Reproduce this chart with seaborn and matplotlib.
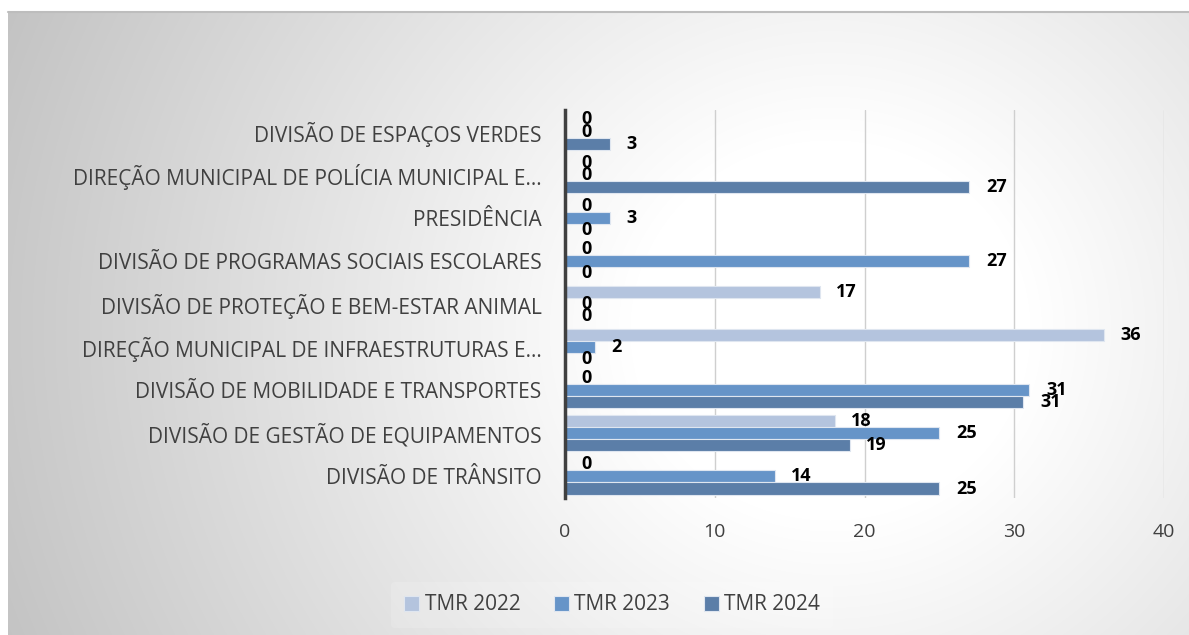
import numpy as np
import pandas as pd
import matplotlib
matplotlib.use("Agg")
import matplotlib.pyplot as plt
from matplotlib.lines import Line2D
import seaborn as sns

categories = [
    "DIVISÃO DE ESPAÇOS VERDES",
    "DIREÇÃO MUNICIPAL DE POLÍCIA MUNICIPAL E…",
    "PRESIDÊNCIA",
    "DIVISÃO DE PROGRAMAS SOCIAIS ESCOLARES",
    "DIVISÃO DE PROTEÇÃO E BEM-ESTAR ANIMAL",
    "DIREÇÃO MUNICIPAL DE INFRAESTRUTURAS E…",
    "DIVISÃO DE MOBILIDADE E TRANSPORTES",
    "DIVISÃO DE GESTÃO DE EQUIPAMENTOS",
    "DIVISÃO DE TRÂNSITO",
]
series = ["TMR 2022", "TMR 2023", "TMR 2024"]
tmr_2022 = [0, 0, 0, 0, 17, 36, 0, 18, 0]
tmr_2023 = [0, 0, 3, 27, 0, 2, 31, 25, 14]
tmr_2024 = [3, 27, 0, 0, 0, 0, 30.6, 19, 25]
x_ticks = [0, 10, 20, 30, 40]

colors = ["#b4c4de", "#6694c8", "#5b7ea8"]
text_color = "#404040"

sns.set_theme(style="white")
plt.rcParams["font.family"] = ["Open Sans", "DejaVu Sans"]

df = pd.DataFrame({
    "categoria": categories * 3,
    "serie": [s for s in series for _ in categories],
    "valor": tmr_2022 + tmr_2023 + tmr_2024,
})

W, H = 1189, 635
fig = plt.figure(figsize=(W / 100, H / 100), dpi=100)
fig.patch.set_facecolor("white")

# radial gradient background
bg = fig.add_axes([8 / W, 0, 1 - 8 / W, (H - 12) / H], zorder=-10)
yy, xx = np.mgrid[12:H, 8:W]
d = np.sqrt(((xx - 830) / 1.0) ** 2 + ((yy - 330) / 0.95) ** 2)
val = 255 - 60 * np.clip((d - 200) / 690, 0, 1)
img = np.dstack([val, val, val]).astype(np.uint8)
bg.imshow(img, aspect="auto", interpolation="bilinear")
bg.set_axis_off()
fig.add_artist(Line2D([8 / W, 1], [1 - 12 / H, 1 - 12 / H], color="#bdbdbd", lw=1.5,
                      transform=fig.transFigure))

ax = fig.add_axes([565 / W, 1 - 498 / H, (1164 - 565) / W, (498 - 110) / H])
ax.patch.set_alpha(0)

sns.barplot(data=df, y="categoria", x="valor", hue="serie", orient="h",
            palette=colors, width=0.84, ax=ax, legend=True,
            edgecolor="#dfe6f0", linewidth=0.8, saturation=1)

for cont in ax.containers:
    ax.bar_label(cont, fmt="%.0f", padding=12, fontsize=13,
                 fontweight="bold", color="black")

ax.set_xlim(0, 40)
ax.set_xticks(x_ticks)
ax.set_xlabel("")
ax.set_ylabel("")
ax.grid(axis="x", color="#cfcfcf", lw=1)
ax.grid(axis="y", visible=False)
ax.set_axisbelow(True)
for s in ["top", "right", "bottom"]:
    ax.spines[s].set_visible(False)
ax.spines["left"].set_color("#404040")
ax.spines["left"].set_linewidth(2.5)
ax.spines["left"].set_zorder(5)
ax.tick_params(axis="y", length=0, pad=17, labelsize=15, labelcolor=text_color)
ax.tick_params(axis="x", length=0, pad=18, labelsize=14, labelcolor=text_color)

handles, labels = ax.get_legend_handles_labels()
ax.legend_.remove()
leg = fig.legend(handles, labels, loc="center", bbox_to_anchor=(612 / W, 1 - 605 / H),
                 ncol=3, frameon=True, fontsize=15, handlelength=0.75, handleheight=0.75,
                 handletextpad=0.25, columnspacing=1.6, borderpad=0.6)
leg.get_frame().set_facecolor("white")
leg.get_frame().set_alpha(0.15)
leg.get_frame().set_edgecolor("none")
for t in leg.get_texts():
    t.set_color(text_color)

fig.savefig("out.png", dpi=100)
